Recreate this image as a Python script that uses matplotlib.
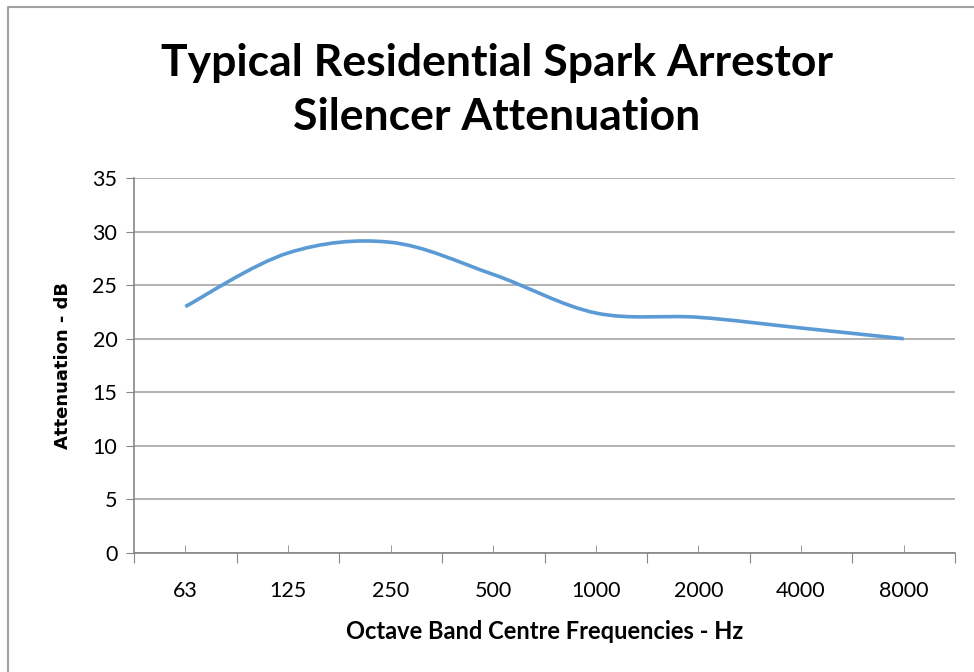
import numpy as np
import matplotlib
matplotlib.use("Agg")
import matplotlib.pyplot as plt
from matplotlib.path import Path
from matplotlib.patches import PathPatch
from matplotlib.lines import Line2D

# octave band centre frequencies and attenuation
bands = ["63", "125", "250", "500", "1000", "2000", "4000", "8000"]
atten = [23, 28, 29, 26, 22.4, 22, 21, 20]
yticks = [0, 5, 10, 15, 20, 25, 30, 35]

font = "Lato"
W, H = 974, 672
fig = plt.figure(figsize=(W / 100, H / 100), dpi=100)
ax = fig.add_axes([134 / W, (H - 553) / H, (955 - 134) / W, (553 - 178) / H])

# smoothed line like the spreadsheet (Catmull-Rom -> cubic bezier segments)
x = np.arange(len(bands), dtype=float)
y = np.array(atten, dtype=float)
verts = [(x[0], y[0])]
codes = [Path.MOVETO]
n = len(x)
for i in range(n - 1):
    p0 = np.array([x[max(i - 1, 0)], y[max(i - 1, 0)]])
    p1 = np.array([x[i], y[i]])
    p2 = np.array([x[i + 1], y[i + 1]])
    p3 = np.array([x[min(i + 2, n - 1)], y[min(i + 2, n - 1)]])
    c1 = p1 + (p2 - p0) / 6
    c2 = p2 - (p3 - p1) / 6
    verts += [tuple(c1), tuple(c2), tuple(p2)]
    codes += [Path.CURVE4] * 3
ax.add_patch(PathPatch(Path(verts, codes), facecolor="none", edgecolor="#5b9bd5",
                       lw=2.6, capstyle="butt", zorder=3))

ax.set_xlim(-0.5, n - 0.5)
ax.set_ylim(0, 35)
ax.set_yticks(yticks)
ax.set_yticklabels([str(v) for v in yticks], fontsize=15.5, family=font)
ax.set_xticks(np.arange(-0.5, n, 1.0))
ax.set_xticklabels([])
ax.set_xticks(x, minor=True)
ax.set_xticklabels(bands, minor=True, fontsize=15.5, family=font)
ax.tick_params(axis="x", which="major", direction="out", length=7, color="#868686")
ax.tick_params(axis="x", which="minor", direction="in", length=6, color="#868686", pad=20)
ax.tick_params(axis="y", direction="out", length=6, color="#868686", pad=6)

ax.grid(axis="y", color="#a6a6a6", lw=1.2)
ax.set_axisbelow(True)
for s in ["top", "right"]:
    ax.spines[s].set_visible(False)
for s in ["left", "bottom"]:
    ax.spines[s].set_color("#868686")
    ax.spines[s].set_linewidth(1.2)

ax.set_xlabel("Octave Band Centre Frequencies - Hz", fontsize=17, fontweight="bold",
              family=font, labelpad=14)
ax.set_ylabel("Attenuation - dB", fontsize=13, fontweight="bold", family="DejaVu Sans",
              labelpad=15)

fig.text(497 / W, 1 - 90 / H, "Typical Residential Spark Arrestor\nSilencer Attenuation",
         ha="center", va="center", fontsize=32, fontweight="bold", family=font,
         linespacing=1.45)

# chart border
fig.add_artist(Line2D([8 / W, 8 / W, 1.0], [0.0, 1 - 7 / H, 1 - 7 / H],
                      transform=fig.transFigure, color="#a0a0a0", lw=1.5))

fig.savefig("out.png", dpi=100, facecolor="white")
